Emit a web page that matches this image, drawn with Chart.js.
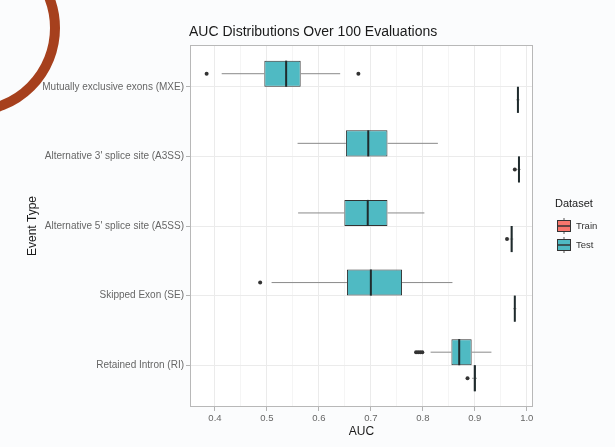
<!DOCTYPE html>
<html>
<head>
<meta charset="utf-8">
<script src="https://cdn.jsdelivr.net/npm/chart.js@4"></script>
<style>
  html, body { margin: 0; padding: 0; background: #fbfcfd; }
  #wrap { width: 615px; height: 447px; }
</style>
</head>
<body>
<div id="wrap"><canvas id="aucChart" width="615" height="447"></canvas></div>
<script>
const categories = [
    'Mutually exclusive exons (MXE)',
    "Alternative 3' splice site (A3SS)",
    "Alternative 5' splice site (A5SS)",
    'Skipped Exon (SE)',
    'Retained Intron (RI)'
];

// box stats per category: lower whisker, q1, median, q3, upper whisker
const testLow    = [0.413, 0.559, 0.560, 0.509, 0.815];
const testQ1     = [0.495, 0.652, 0.649, 0.654, 0.855];
const testMedian = [0.537, 0.695, 0.694, 0.700, 0.870];
const testQ3     = [0.565, 0.732, 0.732, 0.760, 0.894];
const testHigh   = [0.641, 0.829, 0.803, 0.857, 0.932];
const testOutliers = [[0.384, 0.676], [], [], [0.487], [0.787, 0.791, 0.795, 0.799]];

const trainLow    = [0.980, 0.982, 0.967, 0.974, 0.895];
const trainQ1     = [0.982, 0.984, 0.969, 0.976, 0.898];
const trainMedian = [0.983, 0.985, 0.971, 0.977, 0.900];
const trainQ3     = [0.984, 0.986, 0.972, 0.978, 0.902];
const trainHigh   = [0.986, 0.988, 0.974, 0.980, 0.904];
const trainOutliers = [[], [0.977], [0.962], [], [0.886]];

const majorTicks = [0.4, 0.5, 0.6, 0.7, 0.8, 0.9, 1.0];
const minorTicks = [0.45, 0.55, 0.65, 0.75, 0.85, 0.95];

const TRAIN_COLOR = '#F8766D';
const TEST_COLOR = '#4fbac3';
const FONT = "'Liberation Sans', Arial, sans-serif";

const stats = {
    Train: { low: trainLow, q1: trainQ1, med: trainMedian, q3: trainQ3, high: trainHigh, out: trainOutliers },
    Test:  { low: testLow, q1: testQ1, med: testMedian, q3: testQ3, high: testHigh, out: testOutliers }
};

function boxData(q1, q3) {
    return categories.map((c, i) => ({ y: i, x: [q1[i], q3[i]] }));
}

function isMajor(v) {
    return Math.abs(v * 10 - Math.round(v * 10)) < 1e-6;
}

// page background, corner arc and white panel
const backdrop = {
    id: 'backdrop',
    beforeDraw(chart) {
        const { ctx, chartArea: a } = chart;
        ctx.save();
        ctx.fillStyle = '#fbfcfd';
        ctx.fillRect(0, 0, chart.width, chart.height);
        ctx.strokeStyle = '#a6401d';
        ctx.lineWidth = 10;
        ctx.beginPath();
        ctx.arc(-28, 28, 83, -Math.PI / 2, Math.PI / 2);
        ctx.stroke();
        ctx.fillStyle = '#ffffff';
        ctx.fillRect(a.left, a.top, a.right - a.left, a.bottom - a.top);
        ctx.restore();
    }
};

// whiskers, medians and outlier points on top of the floating bars
const boxExtras = {
    id: 'boxExtras',
    afterDatasetsDraw(chart) {
        const ctx = chart.ctx;
        const xs = chart.scales.x;
        ctx.save();
        chart.data.datasets.forEach((ds, di) => {
            const st = stats[ds.label];
            chart.getDatasetMeta(di).data.forEach((bar, i) => {
                const yc = bar.y;
                const h = bar.height;
                ctx.strokeStyle = '#8a8a8a';
                ctx.lineWidth = 1;
                ctx.beginPath();
                ctx.moveTo(xs.getPixelForValue(st.low[i]), yc);
                ctx.lineTo(xs.getPixelForValue(st.q1[i]), yc);
                ctx.moveTo(xs.getPixelForValue(st.q3[i]), yc);
                ctx.lineTo(xs.getPixelForValue(st.high[i]), yc);
                ctx.stroke();

                const mx = xs.getPixelForValue(st.med[i]);
                ctx.strokeStyle = '#1f2b2d';
                ctx.lineWidth = 2;
                ctx.beginPath();
                ctx.moveTo(mx, yc - h / 2);
                ctx.lineTo(mx, yc + h / 2);
                ctx.stroke();

                ctx.fillStyle = '#333333';
                st.out[i].forEach(v => {
                    ctx.beginPath();
                    ctx.arc(xs.getPixelForValue(v), yc, 2, 0, Math.PI * 2);
                    ctx.fill();
                });
            });
        });
        ctx.restore();
    }
};

// panel border, title and legend
const decorations = {
    id: 'decorations',
    afterDraw(chart) {
        const { ctx, chartArea: a } = chart;
        ctx.save();
        ctx.strokeStyle = '#b8b8b8';
        ctx.lineWidth = 1;
        ctx.strokeRect(a.left + 0.5, a.top + 0.5, a.right - a.left - 1, a.bottom - a.top - 1);

        ctx.fillStyle = '#1a1a1a';
        ctx.font = '14px ' + FONT;
        ctx.textBaseline = 'middle';
        ctx.textAlign = 'left';
        ctx.fillText('AUC Distributions Over 100 Evaluations', 189, 32);

        ctx.font = '11px ' + FONT;
        ctx.fillText('Dataset', 555, 204);
        const keys = [['Train', TRAIN_COLOR, 226], ['Test', TEST_COLOR, 245]];
        keys.forEach(([name, color, y]) => {
            ctx.strokeStyle = '#555555';
            ctx.lineWidth = 1;
            ctx.beginPath();
            ctx.moveTo(564, y - 8); ctx.lineTo(564, y - 5);
            ctx.moveTo(564, y + 5); ctx.lineTo(564, y + 8);
            ctx.stroke();
            ctx.fillStyle = color;
            ctx.fillRect(557.5, y - 5.5, 13, 11);
            ctx.strokeStyle = '#333333';
            ctx.strokeRect(557.5, y - 5.5, 13, 11);
            ctx.lineWidth = 1.5;
            ctx.beginPath();
            ctx.moveTo(557.5, y); ctx.lineTo(570.5, y);
            ctx.stroke();
            ctx.fillStyle = '#333333';
            ctx.font = '9.5px ' + FONT;
            ctx.fillText(name, 576, y);
        });
        ctx.restore();
    }
};

new Chart(document.getElementById('aucChart'), {
    type: 'bar',
    data: {
        datasets: [{
            label: 'Test',
            data: boxData(testQ1, testQ3),
            backgroundColor: TEST_COLOR,
            borderColor: '#333333',
            borderWidth: 1,
            borderSkipped: false
        }, {
            label: 'Train',
            data: boxData(trainQ1, trainQ3),
            backgroundColor: TRAIN_COLOR,
            borderColor: '#333333',
            borderWidth: 1,
            borderSkipped: false
        }]
    },
    options: {
        indexAxis: 'y',
        responsive: false,
        animation: false,
        categoryPercentage: 0.75,
        barPercentage: 1,
        layout: { padding: { top: 45, right: 82, bottom: 0, left: 0 } },
        plugins: {
            legend: { display: false },
            title: { display: false },
            tooltip: { enabled: false }
        },
        scales: {
            x: {
                type: 'linear',
                min: 0.352,
                max: 1.012,
                afterBuildTicks: s => {
                    s.ticks = majorTicks.concat(minorTicks).sort((p, q) => p - q).map(v => ({ value: v }));
                },
                afterFit: s => { s.height = 40; },
                border: { display: false },
                grid: {
                    color: c => isMajor(c.tick.value) ? '#ebebeb' : '#f5f5f5',
                    tickColor: c => isMajor(c.tick.value) ? '#b3b3b3' : 'rgba(0,0,0,0)',
                    tickLength: 4
                },
                ticks: {
                    autoSkip: false,
                    maxRotation: 0,
                    padding: 2,
                    color: '#666666',
                    font: { family: FONT, size: 9.5 },
                    callback: v => isMajor(v) ? v.toFixed(1) : ''
                },
                title: {
                    display: true,
                    text: 'AUC',
                    color: '#1a1a1a',
                    font: { family: FONT, size: 12 },
                    padding: { top: 0, bottom: 8 }
                }
            },
            y: {
                type: 'linear',
                min: -0.6,
                max: 4.6,
                reverse: true,
                offset: false,
                afterBuildTicks: s => {
                    s.ticks = categories.map((c, i) => ({ value: i }));
                },
                afterFit: s => { s.width = 190; },
                border: { display: false },
                grid: {
                    offset: false,
                    color: '#ebebeb',
                    tickColor: '#b3b3b3',
                    tickLength: 4
                },
                ticks: {
                    autoSkip: false,
                    padding: 2,
                    color: '#666666',
                    font: { family: FONT, size: 10 },
                    callback: v => categories[v]
                },
                title: {
                    display: true,
                    text: 'Event Type',
                    color: '#1a1a1a',
                    font: { family: FONT, size: 12 },
                    padding: { top: 25, bottom: 0 }
                }
            }
        }
    },
    plugins: [backdrop, boxExtras, decorations]
});
</script>
</body>
</html>
